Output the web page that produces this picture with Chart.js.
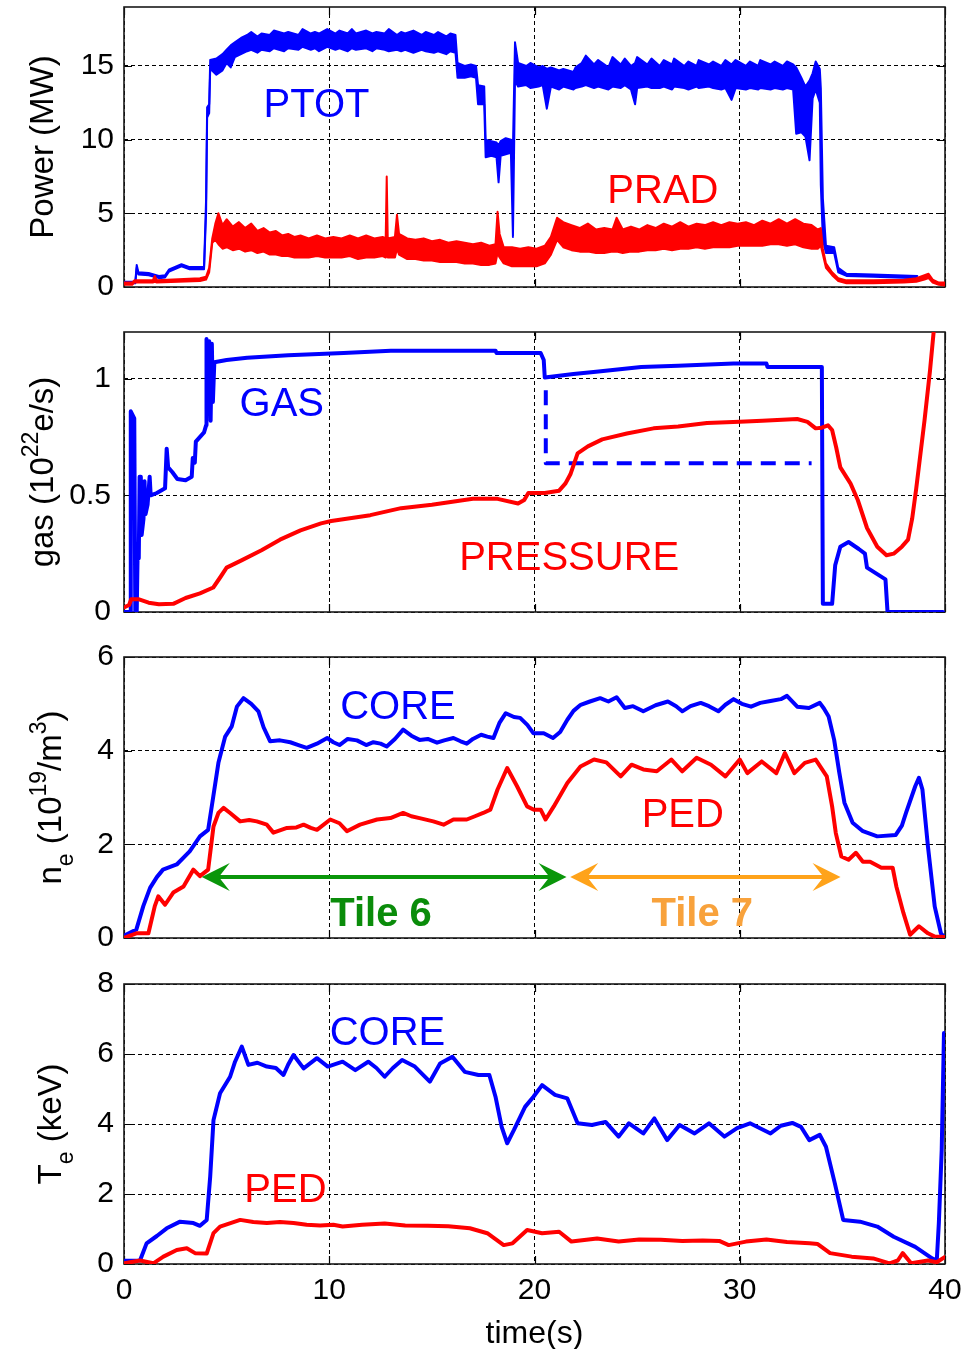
<!DOCTYPE html>
<html><head><meta charset="utf-8">
<script src="https://cdn.jsdelivr.net/npm/chart.js@4/dist/chart.umd.min.js"></script>
<style>
html,body{margin:0;padding:0;background:#fff;}
#wrap{position:relative;width:964px;height:1349px;overflow:hidden;background:#fff}
canvas{position:absolute;left:0}
</style></head><body>
<div id="wrap">
<canvas id="c1" width="964" height="325" style="top:0px"></canvas>
<canvas id="c2" width="964" height="325" style="top:325px"></canvas>
<canvas id="c3" width="964" height="340" style="top:640px"></canvas>
<canvas id="c4" width="964" height="389" style="top:960px"></canvas>
</div>
<script>
// ---------------- tick labels ----------------
const TIME_TICKS  = [0, 10, 20, 30, 40];
const POWER_TICKS = [0, 5, 10, 15];
const GAS_TICKS   = [0, 0.5, 1];
const NE_TICKS    = [0, 2, 4, 6];
const TE_TICKS    = [0, 2, 4, 6, 8];

// ---------------- panel 1: power (MW) — noisy traces as [t, upper, lower] ----------------
const PTOT_BAND = [
 [0,0.35,0.25],[0.55,0.35,0.25],[0.62,1.5,1.3],[0.7,1.0,0.85],[1.2,0.95,0.8],[1.7,0.75,0.6],[2.0,0.8,0.65],
 [2.2,1.2,1.05],[2.8,1.55,1.4],[3.2,1.35,1.2],[3.9,1.35,1.2],[4.0,6,5],[4.05,12.2,11.5],[4.15,12.4,11.8],
 [4.2,15.4,14.8],[4.5,15.5,14.4],[4.8,15.8,14.7],[5.0,16.1,15.2],[5.2,16.4,14.9],[5.4,16.6,15.6],[5.7,16.9,15.8],
 [6.0,17.1,16.0],[6.2,17.3,16.1],[6.5,17.0,15.9],[6.7,17.2,16.1],[7.1,17.1,16.0],[7.3,17.4,16.2],[7.8,17.2,16.0],
 [8.0,17.3,16.2],[8.5,17.1,16.1],[8.7,17.5,16.3],[9.1,17.2,16.1],[9.3,17.3,16.2],[9.5,17.2,16.0],[9.9,17.5,16.3],
 [10.3,17.2,16.1],[10.5,17.4,16.2],[10.9,17.2,16.0],[11.1,17.5,16.2],[11.3,17.2,16.1],[11.8,17.4,16.2],[12.1,17.2,16.0],
 [12.3,17.3,16.2],[12.7,17.2,16.1],[12.9,17.5,16.0],[13.3,17.1,16.1],[13.5,17.3,16.0],[13.7,17.2,16.1],[14.1,17.4,15.9],
 [14.5,17.1,16.1],[14.7,17.3,16.0],[15.1,17.1,15.9],[15.3,17.3,16.0],[15.7,17.0,15.8],[15.9,17.2,16.0],[16.15,17.1,15.9],
 [16.25,15.2,14.2],[16.6,15.0,14.2],[16.9,15.1,14.3],[17.15,15.0,14.2],[17.25,13.7,12.4],[17.55,13.6,12.4],
 [17.62,10.0,8.8],[17.9,9.9,8.9],[18.15,9.8,8.8],[18.25,9.6,7.1],[18.35,9.9,8.9],[18.6,10.1,9.0],[18.85,10.0,9.1],
 [18.95,9.5,3.4],[19.05,16.6,14.0],[19.2,15.2,13.6],[19.6,15.0,13.7],[19.8,15.2,13.5],[20.2,14.9,13.6],[20.4,15.0,13.7],
 [20.6,14.8,12.1],[20.8,14.9,13.6],[21.2,14.7,13.4],[21.4,14.8,13.6],[21.9,14.6,13.4],[22.0,14.9,13.5],[22.3,15.2,13.6],
 [22.5,15.7,13.7],[22.9,15.1,13.5],[23.1,15.4,13.6],[23.6,14.9,13.4],[23.8,15.6,13.6],[24.2,15.1,13.5],[24.4,15.5,13.7],
 [24.7,15.0,13.4],[24.9,15.2,12.4],[25.0,15.6,13.5],[25.5,15.1,13.6],[25.7,15.5,13.5],[26.1,15.0,13.5],[26.3,15.4,13.6],
 [26.7,15.1,13.4],[26.8,15.5,13.6],[27.3,15.0,13.5],[27.5,15.3,13.4],[27.9,15.0,13.6],[28.0,15.4,13.5],[28.5,15.1,13.6],
 [28.7,15.3,13.5],[29.1,15.0,13.4],[29.3,15.4,13.5],[29.6,15.1,12.7],[29.8,15.4,13.5],[30.3,15.0,13.4],[30.5,15.3,13.5],
 [30.9,15.0,13.4],[31.0,15.4,13.5],[31.5,15.1,13.4],[31.7,15.3,13.5],[32.1,15.0,13.4],[32.3,15.3,13.5],[32.6,15.1,13.4],
 [32.75,14.9,10.4],[33.0,14.2,10.5],[33.2,13.6,10.2],[33.4,14.0,8.6],[33.55,14.5,12.8],[33.7,15.3,13.4],[33.9,14.8,12.5],
 [33.95,13.5,6.9],[34.05,6.0,3.2],[34.2,2.8,2.3],[34.6,2.7,2.3],[34.8,1.3,1.0],[35.2,0.9,0.75],[36.5,0.85,0.7],[38.65,0.75,0.6]
];
const PRAD_BAND = [
 [0,0.3,0.15],[0.4,0.3,0.15],[0.5,0.45,0.3],[1.4,0.45,0.3],[1.5,0.75,0.35],[1.6,0.45,0.3],[3.7,0.6,0.4],[4.0,0.7,0.5],
 [4.15,1.3,1.0],[4.3,3.3,3.0],[4.45,4.3,3.2],[4.6,5.0,2.9],[4.8,4.2,2.6],[5.0,4.6,2.7],[5.3,4.1,2.5],[5.6,4.4,2.6],
 [5.9,4.0,2.4],[6.2,4.3,2.5],[6.5,3.8,2.3],[6.8,4.0,2.4],[7.1,3.7,2.2],[7.4,3.8,2.2],[7.7,3.5,2.1],[8.0,3.6,2.1],
 [8.3,3.4,2.0],[8.6,3.5,2.0],[9.0,3.3,2.0],[9.4,3.5,2.1],[9.8,3.3,2.0],[10.2,3.4,2.0],[10.6,3.3,2.0],[11.0,3.5,2.1],
 [11.4,3.3,1.9],[11.8,3.5,2.0],[12.2,3.3,2.0],[12.6,3.4,2.1],[12.75,3.3,2.0],[12.8,7.5,2.2],[12.85,3.3,2.0],[13.2,3.4,2.0],
 [13.3,4.9,2.6],[13.4,3.6,2.2],[13.8,3.3,1.9],[14.2,3.2,1.9],[14.6,3.3,1.8],[15.0,3.1,1.8],[15.4,3.2,1.7],[15.8,3.0,1.7],
 [16.2,3.1,1.7],[16.6,3.0,1.6],[17.0,2.9,1.6],[17.4,3.0,1.5],[17.8,2.8,1.5],[18.1,2.9,1.6],[18.2,5.1,2.3],[18.3,3.6,2.0],
 [18.5,2.7,1.6],[18.9,2.7,1.4],[19.3,2.6,1.4],[19.7,2.7,1.4],[20.1,2.6,1.4],[20.5,2.8,1.6],[20.8,3.4,2.2],[21.1,4.7,3.2],
 [21.4,4.4,2.7],[21.8,4.2,2.5],[22.2,4.0,2.4],[22.6,4.3,2.4],[23.0,3.9,2.3],[23.4,4.0,2.3],[23.8,3.9,2.4],[24.0,4.7,2.4],
 [24.3,3.9,2.3],[24.7,4.1,2.4],[25.1,3.9,2.4],[25.5,4.2,2.5],[25.9,4.0,2.5],[26.3,4.3,2.6],[26.7,4.1,2.5],[27.1,4.4,2.6],
 [27.5,4.1,2.6],[27.9,4.3,2.7],[28.3,4.2,2.6],[28.7,4.4,2.7],[29.1,4.2,2.7],[29.5,4.4,2.7],[29.9,4.3,2.8],[30.3,4.4,2.8],
 [30.7,4.2,2.8],[31.1,4.5,2.8],[31.5,4.3,2.9],[31.9,4.6,2.9],[32.3,4.3,2.8],[32.7,4.6,2.9],[33.1,4.3,2.7],[33.5,4.2,2.6],
 [33.8,3.9,2.6],[33.95,4.0,2.8],[34.05,2.6,2.2],[34.2,1.6,1.3],[34.5,1.0,0.8],[34.8,0.6,0.4],[35.2,0.45,0.25],
 [36.5,0.45,0.25],[38.0,0.5,0.3],[38.6,0.6,0.35],[39.0,0.8,0.5],[39.2,0.9,0.6],[39.4,0.5,0.3],[39.7,0.3,0.15],[40,0.3,0.1]
];

// ---------------- panel 2: gas (1e22 e/s) ----------------
const GAS = [
 [0,0],[0.3,0],[0.33,0.86],[0.5,0.83],[0.55,0],[0.62,0],[0.66,0.23],[0.72,0.23],[0.76,0.58],[0.82,0.58],[0.86,0.33],
 [0.95,0.4],[1.0,0.56],[1.05,0.42],[1.15,0.46],[1.25,0.58],[1.3,0.5],[1.6,0.51],[2.0,0.53],[2.08,0.7],[2.15,0.62],
 [2.35,0.6],[2.6,0.57],[3.0,0.565],[3.3,0.58],[3.35,0.66],[3.45,0.64],[3.5,0.73],[3.9,0.77],[4.0,0.8],[4.02,1.17],
 [4.08,0.85],[4.15,1.16],[4.22,0.82],[4.28,1.15],[4.33,0.9],[4.4,1.07],[5,1.08],[6,1.09],[8,1.10],[10.7,1.11],[13,1.12],
 [18.1,1.12],[18.15,1.11],[20.3,1.11],[20.45,1.08],[20.5,1.005],[21.9,1.02],[23,1.03],[25.2,1.05],[27,1.055],[29.7,1.065],
 [31.3,1.065],[31.35,1.05],[34.0,1.05],[34.05,0.035],[34.5,0.035],[34.65,0.2],[34.9,0.28],[35.3,0.30],[35.8,0.27],
 [36.1,0.25],[36.2,0.19],[37.1,0.14],[37.2,0],[39.9,0]
];
const GAS_REQUEST = [[20.55,0.95],[20.55,0.637],[33.5,0.637]];
const PRESSURE = [
 [0,0.02],[0.25,0.03],[0.35,0.055],[0.7,0.055],[1.2,0.04],[1.7,0.033],[2.4,0.035],[3.0,0.06],[3.7,0.08],[4.35,0.105],
 [4.7,0.15],[5.0,0.19],[5.7,0.22],[6.7,0.265],[7.6,0.31],[8.6,0.35],[9.6,0.38],[10.1,0.39],[12,0.415],[13.5,0.445],
 [15,0.46],[17,0.485],[18.2,0.485],[19.2,0.465],[19.5,0.48],[19.7,0.51],[20.5,0.51],[21.2,0.52],[21.5,0.55],[21.75,0.59],
 [22.1,0.68],[22.6,0.71],[23.3,0.74],[24.5,0.765],[25.8,0.787],[27,0.795],[28.4,0.81],[30,0.815],[31.1,0.82],[32.8,0.827],
 [33.3,0.815],[33.7,0.787],[34.0,0.79],[34.3,0.80],[34.5,0.78],[34.7,0.705],[34.9,0.62],[35.4,0.55],[35.75,0.48],
 [36.2,0.36],[36.7,0.28],[37.15,0.243],[37.5,0.25],[37.9,0.28],[38.2,0.31],[38.4,0.4],[38.6,0.53],[39.0,0.82],
 [39.27,1.035],[39.5,1.25]
];

// ---------------- panel 3: n_e (1e19 /m^3) ----------------
const NE_CORE = [
 [0,0.05],[0.6,0.18],[0.94,0.68],[1.27,1.07],[1.6,1.3],[1.9,1.46],[2.57,1.57],[3.2,1.85],[3.7,2.17],[4.1,2.31],[4.35,3.02],
 [4.6,3.74],[4.93,4.30],[5.25,4.52],[5.5,4.94],[5.82,5.12],[6.2,5.0],[6.55,4.84],[6.8,4.5],[7.12,4.2],[7.6,4.22],[8.1,4.18],
 [8.5,4.12],[8.9,4.06],[9.4,4.15],[9.9,4.27],[10.2,4.18],[10.5,4.12],[10.9,4.25],[11.35,4.22],[11.8,4.12],[12.15,4.18],
 [12.5,4.15],[12.8,4.09],[13.2,4.25],[13.6,4.45],[14.0,4.32],[14.4,4.23],[14.8,4.25],[15.25,4.17],[15.6,4.22],[16.05,4.27],
 [16.4,4.2],[16.7,4.15],[17.0,4.25],[17.4,4.34],[17.7,4.3],[18.0,4.27],[18.3,4.6],[18.6,4.8],[19.0,4.72],[19.3,4.70],
 [19.65,4.55],[19.95,4.37],[20.45,4.37],[20.9,4.27],[21.25,4.4],[21.6,4.66],[21.9,4.85],[22.25,4.98],[22.7,5.05],[23.2,5.12],
 [23.6,5.05],[24.0,5.14],[24.4,4.91],[24.8,4.95],[25.3,4.84],[25.9,4.97],[26.5,5.05],[26.9,4.95],[27.2,4.84],[27.6,4.95],
 [28.1,5.02],[28.5,4.95],[28.96,4.84],[29.3,4.98],[29.7,5.10],[30.1,5.0],[30.55,4.94],[31.0,5.02],[31.5,5.06],[32.0,5.1],
 [32.3,5.17],[32.8,4.94],[33.37,4.91],[33.9,5.02],[34.1,4.9],[34.33,4.73],[34.6,4.23],[34.85,3.53],[35.1,2.89],[35.5,2.46],
 [36.0,2.28],[36.7,2.17],[37.6,2.2],[37.9,2.4],[38.1,2.67],[38.55,3.24],[38.73,3.42],[38.9,3.17],[39.17,1.95],[39.5,0.67],
 [39.8,0.1],[40,0]
];
const NE_PED = [
 [0,0],[0.6,0.1],[1.19,0.1],[1.5,0.68],[1.67,0.89],[2.0,0.71],[2.4,0.97],[2.9,1.1],[3.38,1.46],[3.7,1.32],[4.1,1.46],
 [4.36,2.38],[4.6,2.67],[4.85,2.78],[5.17,2.67],[5.66,2.49],[6.1,2.52],[6.47,2.49],[6.96,2.42],[7.28,2.25],[7.94,2.35],
 [8.4,2.36],[8.75,2.42],[9.1,2.35],[9.4,2.31],[10.05,2.53],[10.5,2.45],[10.86,2.28],[11.5,2.42],[12.33,2.53],[12.98,2.56],
 [13.6,2.67],[14.0,2.6],[14.4,2.56],[15.07,2.49],[15.57,2.42],[16.05,2.53],[16.7,2.53],[17.1,2.6],[17.5,2.67],[17.85,2.74],
 [18.2,3.17],[18.67,3.63],[19.15,3.24],[19.64,2.81],[19.97,2.74],[20.3,2.74],[20.54,2.53],[20.94,2.81],[21.6,3.31],
 [22.24,3.66],[22.9,3.81],[23.5,3.75],[24.2,3.45],[24.73,3.70],[25.3,3.6],[25.96,3.56],[26.67,3.81],[27.2,3.56],[27.9,3.85],
 [28.6,3.70],[29.3,3.45],[30.0,3.81],[30.37,3.52],[31.07,3.77],[31.78,3.52],[32.2,3.95],[32.66,3.52],[33.17,3.74],
 [33.7,3.81],[34.24,3.45],[34.5,2.81],[34.68,2.24],[34.95,1.74],[35.3,1.67],[35.66,1.82],[36.0,1.63],[36.35,1.63],
 [36.9,1.50],[37.45,1.50],[37.63,1.1],[37.97,0.54],[38.3,0.07],[38.73,0.25],[39.17,0.1],[39.5,0.03],[40,0.02]
];

// ---------------- panel 4: T_e (keV) ----------------
const TE_CORE = [
 [0,0.09],[0.78,0.1],[1.1,0.59],[1.6,0.8],[2.08,1.02],[2.73,1.21],[3.38,1.17],[3.7,1.09],[4.03,1.26],[4.2,2.5],[4.36,4.11],
 [4.68,4.88],[5.17,5.35],[5.41,5.78],[5.74,6.21],[6.06,5.69],[6.5,5.75],[6.96,5.64],[7.4,5.6],[7.77,5.4],[8.0,5.7],
 [8.26,5.97],[8.75,5.59],[9.4,5.88],[9.93,5.64],[10.65,5.78],[11.27,5.54],[11.9,5.78],[12.3,5.6],[12.7,5.35],[13.1,5.6],
 [13.55,5.83],[14.17,5.64],[14.9,5.21],[15.4,5.73],[16.0,5.92],[16.6,5.49],[17.27,5.4],[17.8,5.4],[18.1,4.78],[18.4,3.92],
 [18.67,3.45],[19.0,3.83],[19.54,4.49],[19.95,4.78],[20.37,5.11],[21.0,4.83],[21.6,4.73],[22.1,4.02],[22.8,3.97],
 [23.46,4.06],[24.1,3.64],[24.6,4.02],[25.3,3.73],[25.84,4.16],[26.46,3.54],[27.07,3.97],[27.8,3.73],[28.5,4.02],
 [29.25,3.64],[29.87,3.88],[30.5,4.02],[31.5,3.73],[32.0,3.95],[32.56,4.03],[32.98,3.92],[33.39,3.54],[33.9,3.69],
 [34.2,3.35],[34.63,2.31],[35.04,1.26],[35.86,1.21],[36.7,1.07],[37.5,0.78],[38.55,0.49],[39.37,0.16],[39.6,0.1],
 [39.7,1.17],[39.84,3.26],[39.95,6.6]
];
const TE_PED = [
 [0,0.02],[0.78,0.1],[1.43,0.02],[1.92,0.21],[2.57,0.4],[3.06,0.45],[3.46,0.31],[4.03,0.3],[4.36,0.88],[4.68,1.07],
 [5.66,1.26],[6.3,1.2],[6.96,1.17],[7.6,1.2],[8.26,1.17],[8.9,1.12],[9.56,1.1],[10.2,1.12],[10.65,1.07],[11.6,1.12],
 [12.7,1.16],[13.7,1.1],[14.8,1.09],[15.8,1.08],[16.85,1.02],[17.7,0.88],[18.5,0.54],[18.93,0.59],[19.64,0.97],
 [20.37,0.88],[21.2,0.92],[21.8,0.64],[23.05,0.73],[24.1,0.64],[25.1,0.7],[26.15,0.69],[27.2,0.66],[28.2,0.67],[29.0,0.66],
 [29.46,0.54],[30.3,0.64],[31.3,0.7],[32.3,0.63],[33.4,0.59],[33.8,0.57],[34.4,0.31],[35.45,0.21],[36.5,0.16],[37.3,0.02],
 [37.7,0.1],[37.94,0.31],[38.35,0.02],[39.17,0.1],[39.6,0.05],[40,0.2]
];

// ---------------- helpers ----------------
const FONT = "'Liberation Sans', Arial, Helvetica, sans-serif";
const BLUE = '#0000ff', RED = '#ff0000';
const pts = a => a.map(p => ({x: p[0], y: p[1]}));
const bandHi = a => a.map(p => ({x: p[0], y: p[1]}));
const bandLo = a => a.map(p => ({x: p[0], y: p[2]}));
const line = (data, color, extra) => Object.assign({data: pts(data), borderColor: color, borderWidth: 4,
  pointRadius: 0, fill: false, tension: 0}, extra || {});
const band = (arr, color) => [
  {data: bandHi(arr), borderColor: color, backgroundColor: color, borderWidth: 2, pointRadius: 0, fill: '+1', tension: 0},
  {data: bandLo(arr), borderColor: color, borderWidth: 2, pointRadius: 0, fill: false, tension: 0}
];

const framePlugin = {
  id: 'frame',
  beforeDatasetsDraw(chart) {
    const {ctx, chartArea: a, scales} = chart;
    ctx.save();
    ctx.setLineDash([]);
    ctx.strokeStyle = '#000';
    ctx.lineWidth = 1.2;
    ctx.beginPath();
    for (const t of scales.x.ticks) {
      const p = Math.round(scales.x.getPixelForValue(t.value)) + 0.5;
      ctx.moveTo(p, a.bottom); ctx.lineTo(p, a.bottom - 8);
      ctx.moveTo(p, a.top); ctx.lineTo(p, a.top + 8);
    }
    for (const t of scales.y.ticks) {
      const p = Math.round(scales.y.getPixelForValue(t.value)) + 0.5;
      ctx.moveTo(a.left, p); ctx.lineTo(a.left + 8, p);
      ctx.moveTo(a.right, p); ctx.lineTo(a.right - 8, p);
    }
    ctx.stroke();
    ctx.lineWidth = 1.6;
    ctx.strokeStyle = '#1a1a1a';
    ctx.strokeRect(a.left, a.top, a.right - a.left, a.bottom - a.top);
    ctx.restore();
  },
  afterDatasetsDraw(chart, args, opts) {
    const {ctx, scales} = chart;
    ctx.save();
    for (const ar of (opts.arrows || [])) {
      const y = scales.y.getPixelForValue(ar.y);
      const x1 = scales.x.getPixelForValue(ar.x1), x2 = scales.x.getPixelForValue(ar.x2);
      ctx.strokeStyle = ar.color; ctx.fillStyle = ar.color; ctx.lineWidth = 4;
      ctx.beginPath(); ctx.moveTo(x1 + 10, y); ctx.lineTo(x2 - 10, y); ctx.stroke();
      const head = (tx, dir) => {
        ctx.beginPath();
        ctx.moveTo(tx, y);
        ctx.lineTo(tx + dir * 28, y - 14);
        ctx.lineTo(tx + dir * 17, y);
        ctx.lineTo(tx + dir * 28, y + 14);
        ctx.closePath(); ctx.fill();
      };
      head(x1, 1); head(x2, -1);
    }
    ctx.textAlign = 'left'; ctx.textBaseline = 'alphabetic';
    for (const l of (opts.labels || [])) {
      ctx.font = (l.bold ? 'bold ' : '') + '40px ' + FONT;
      ctx.fillStyle = l.color;
      ctx.fillText(l.text, scales.x.getPixelForValue(l.x), scales.y.getPixelForValue(l.y));
    }
    ctx.restore();
  },
  afterDraw(chart, args, opts) {
    if (!opts.title) return;
    const {ctx, chartArea: a} = chart;
    const cy = (a.top + a.bottom) / 2;
    const fnt = s => ((s.sup || s.sub) ? '23px ' : '33px ') + FONT;
    ctx.save();
    ctx.translate(opts.titleX, cy);
    ctx.rotate(-Math.PI / 2);
    let total = 0;
    for (const s of opts.title) { ctx.font = fnt(s); s.w = ctx.measureText(s.t).width; total += s.w; }
    let x = -total / 2;
    ctx.fillStyle = '#000'; ctx.textAlign = 'left'; ctx.textBaseline = 'alphabetic';
    for (const s of opts.title) {
      ctx.font = fnt(s);
      ctx.fillText(s.t, x, s.sup ? -15 : (s.sub ? 12 : 0));
      x += s.w;
    }
    ctx.restore();
  }
};

function panel(id, c) {
  const gridCommon = {color: '#000', lineWidth: 1, drawTicks: false};
  const borderCommon = {display: false, dash: [4, 3]};
  return new Chart(document.getElementById(id), {
    type: 'line',
    data: {datasets: c.datasets},
    plugins: [framePlugin],
    options: {
      responsive: false, animation: false, devicePixelRatio: 1,
      layout: {autoPadding: false, padding: {left: 0, right: 19, top: c.padTop, bottom: c.padBottom}},
      plugins: {legend: {display: false}, tooltip: {enabled: false},
        frame: {labels: c.labels, arrows: c.arrows, title: c.title, titleX: c.titleX}},
      elements: {point: {radius: 0}, line: {borderJoinStyle: 'round', borderCapStyle: 'round'}},
      scales: {
        x: {type: 'linear', min: 0, max: 40,
          afterBuildTicks: s => { s.ticks = TIME_TICKS.map(v => ({value: v})); },
          afterFit: s => { s.height = c.xHeight; s.paddingLeft = 0; s.paddingRight = 0; s.paddingTop = 0; s.paddingBottom = 0; },
          grid: gridCommon, border: borderCommon,
          ticks: {display: c.showX, color: '#000', font: {family: FONT, size: 30}, padding: 9,
                  maxRotation: 0, autoSkip: false, callback: v => String(v)},
          title: {display: c.showX, text: 'time(s)', color: '#000', font: {family: FONT, size: 32},
                  padding: {top: 0, bottom: -4}}},
        y: {type: 'linear', min: c.yMin, max: c.yMax,
          afterBuildTicks: s => { s.ticks = c.yTicks.map(v => ({value: v})); },
          afterFit: s => { s.width = 124; s.paddingTop = 0; s.paddingBottom = 0; s.paddingLeft = 0; s.paddingRight = 0; },
          grid: gridCommon, border: borderCommon,
          ticks: {color: '#000', font: {family: FONT, size: 30}, padding: c.yPad, autoSkip: false,
                  callback: v => String(v)}}
      }
    }
  });
}

panel('c1', {
  datasets: [...band(PRAD_BAND, RED), ...band(PTOT_BAND, BLUE)],
  yMin: 0, yMax: 19, yTicks: POWER_TICKS, yPad: 10,
  padTop: 7, padBottom: 38, xHeight: 0, showX: false,
  title: [{t: 'Power (MW)'}], titleX: 53,
  labels: [{text: 'PTOT', x: 6.8, y: 11.55, color: BLUE}, {text: 'PRAD', x: 23.55, y: 5.72, color: RED}]
});
panel('c2', {
  datasets: [line(PRESSURE, RED), line(GAS_REQUEST, BLUE, {borderDash: [15, 9], borderCapStyle: 'butt'}), line(GAS, BLUE)],
  yMin: 0, yMax: 1.2, yTicks: GAS_TICKS, yPad: 13,
  padTop: 7, padBottom: 38, xHeight: 0, showX: false,
  title: [{t: 'gas (10'}, {t: '22', sup: 1}, {t: 'e/s)'}], titleX: 53,
  labels: [{text: 'GAS', x: 5.63, y: 0.838, color: BLUE}, {text: 'PRESSURE', x: 16.33, y: 0.179, color: RED}]
});
panel('c3', {
  datasets: [line(NE_PED, RED), line(NE_CORE, BLUE)],
  yMin: 0, yMax: 6, yTicks: NE_TICKS, yPad: 10,
  padTop: 17, padBottom: 42, xHeight: 0, showX: false,
  title: [{t: 'n'}, {t: 'e', sub: 1}, {t: ' (10'}, {t: '19', sup: 1}, {t: '/m'}, {t: '3', sup: 1}, {t: ')'}], titleX: 61,
  labels: [{text: 'CORE', x: 10.53, y: 4.68, color: BLUE}, {text: 'PED', x: 25.22, y: 2.38, color: RED},
           {text: 'Tile 6', x: 10.05, y: 0.25, color: '#0a8c0a', bold: true},
           {text: 'Tile 7', x: 25.7, y: 0.25, color: '#f8a23c', bold: true}],
  arrows: [{x1: 3.79, x2: 21.56, y: 1.30, color: '#0a960a'}, {x1: 21.74, x2: 34.91, y: 1.30, color: '#ffa31a'}]
});
panel('c4', {
  datasets: [line(TE_PED, RED), line(TE_CORE, BLUE)],
  yMin: 0, yMax: 8, yTicks: TE_TICKS, yPad: 10,
  padTop: 24, padBottom: 0, xHeight: 85, showX: true,
  title: [{t: 'T'}, {t: 'e', sub: 1}, {t: ' (keV)'}], titleX: 61,
  labels: [{text: 'CORE', x: 10.02, y: 6.26, color: BLUE}, {text: 'PED', x: 5.86, y: 1.78, color: RED}]
});
</script>
</body></html>
